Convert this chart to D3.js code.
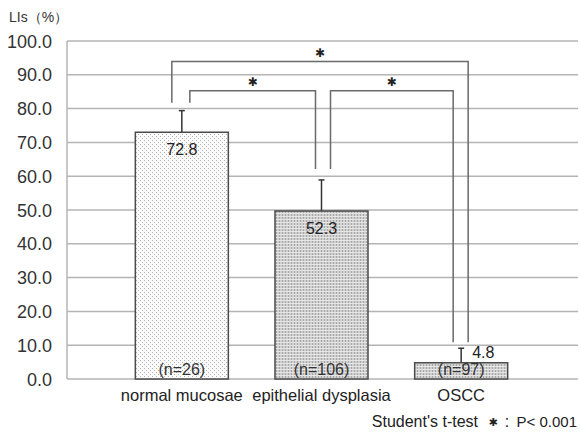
<!DOCTYPE html>
<html>
<head>
<meta charset="utf-8">
<script src="https://cdn.jsdelivr.net/npm/d3@7"></script>
<style>
  body { margin: 0; background: #fff; }
  svg { font-family: "Liberation Sans", Arial, sans-serif; }
</style>
</head>
<body>
<svg id="chart" width="580" height="436"></svg>
<script>
// data
const categories = ["normal mucosae", "epithelial dysplasia", "OSCC"];
const barValues = [73.0, 49.7, 4.8];
const valueLabels = ["72.8", "52.3", "4.8"];
const errorTops = [79.4, 58.9, 9.1];
const nLabels = ["(n=26)", "(n=106)", "(n=97)"];
const yTicks = [0, 10, 20, 30, 40, 50, 60, 70, 80, 90, 100];
// significance brackets: from / to category index, top and leg ends (in %)
const brackets = [
    { from: 0, to: 2, top: 93.9, leftEnd: 81.7, rightEnd: 10.9 },
    { from: 0, to: 1, top: 85.3, leftEnd: 81.7, rightEnd: 62.1 },
    { from: 1, to: 2, top: 85.3, leftEnd: 62.1, rightEnd: 10.9 }
];

const svg = d3.select("#chart");
const plotLeft = 67, plotRight = 578;
const STAR = "\u2731";

const x = d3.scalePoint().domain(categories).range([112, 531]).padding(0.5);
const y = d3.scaleLinear().domain([0, 100]).range([379, 41]);
const barWidth = 93;

// patterns for the bars
const defs = svg.append("defs");
const p1 = defs.append("pattern").attr("id", "dots1")
    .attr("width", 4).attr("height", 4).attr("patternUnits", "userSpaceOnUse");
p1.append("rect").attr("width", 4).attr("height", 4).attr("fill", "#fbfbfb");
p1.append("rect").attr("x", 0).attr("y", 0).attr("width", 1).attr("height", 1).attr("fill", "#b0b0b0");
p1.append("rect").attr("x", 2).attr("y", 2).attr("width", 1).attr("height", 1).attr("fill", "#b0b0b0");

const p2 = defs.append("pattern").attr("id", "dots2")
    .attr("width", 3).attr("height", 3).attr("patternUnits", "userSpaceOnUse");
p2.append("rect").attr("width", 3).attr("height", 3).attr("fill", "#cfcfcf");
p2.append("rect").attr("width", 1).attr("height", 3).attr("fill", "#a8a8a8");
p2.append("rect").attr("width", 3).attr("height", 1).attr("fill", "#e6e6e6");

const fills = ["url(#dots1)", "url(#dots2)", "url(#dots2)"];

// gridlines
svg.append("g").selectAll("line")
    .data(yTicks)
    .join("line")
    .attr("x1", plotLeft).attr("x2", plotRight)
    .attr("y1", d => y(d)).attr("y2", d => y(d))
    .attr("stroke", "#b4b4b4").attr("stroke-width", 1.5);

svg.append("line")
    .attr("x1", plotLeft).attr("x2", plotLeft)
    .attr("y1", y(100)).attr("y2", y(0))
    .attr("stroke", "#b4b4b4").attr("stroke-width", 1.5);

// y tick labels
svg.append("g").selectAll("text")
    .data(yTicks)
    .join("text")
    .attr("x", 52).attr("y", d => y(d) + 6.5)
    .attr("text-anchor", "end")
    .attr("font-size", 18)
    .attr("fill", "#333")
    .text(d => d.toFixed(1));

svg.append("text")
    .attr("x", 9).attr("y", 22)
    .attr("font-size", 14).attr("fill", "#333")
    .text("LIs\uFF08%\uFF09");

// error bars
const eb = svg.append("g");
categories.forEach((c, i) => {
    const cx = x(c);
    eb.append("line")
        .attr("x1", cx).attr("x2", cx)
        .attr("y1", y(barValues[i])).attr("y2", y(errorTops[i]))
        .attr("stroke", "#333").attr("stroke-width", 1.5);
    eb.append("line")
        .attr("x1", cx - 3).attr("x2", cx + 3)
        .attr("y1", y(errorTops[i])).attr("y2", y(errorTops[i]))
        .attr("stroke", "#333").attr("stroke-width", 1.5);
});

// bars
svg.append("g").selectAll("rect")
    .data(categories)
    .join("rect")
    .attr("x", d => x(d) - barWidth / 2)
    .attr("width", barWidth)
    .attr("y", (d, i) => y(barValues[i]))
    .attr("height", (d, i) => y(0) - y(barValues[i]))
    .attr("fill", (d, i) => fills[i])
    .attr("stroke", "#4a4a4a").attr("stroke-width", 1.5);

// value labels
svg.append("g").selectAll("text")
    .data(categories)
    .join("text")
    .attr("x", (d, i) => i === 2 ? x(d) + 11 : x(d))
    .attr("y", (d, i) => i === 2 ? y(errorTops[i]) + 10 : y(barValues[i]) + 23)
    .attr("text-anchor", (d, i) => i === 2 ? "start" : "middle")
    .attr("font-size", 16).attr("fill", "#222")
    .text((d, i) => valueLabels[i]);

// n labels
svg.append("g").selectAll("text")
    .data(categories)
    .join("text")
    .attr("x", d => x(d))
    .attr("y", y(0) - 4)
    .attr("text-anchor", "middle")
    .attr("font-size", 16).attr("fill", "#333")
    .text((d, i) => nLabels[i]);

// category labels
svg.append("g").selectAll("text")
    .data(categories)
    .join("text")
    .attr("x", d => x(d))
    .attr("y", 401)
    .attr("text-anchor", "middle")
    .attr("font-size", 16.5).attr("fill", "#222")
    .text(d => d);

// brackets
const legOffsets = [[-10, 7], [8, -6], [9, -8]];
const bg = svg.append("g");
brackets.forEach((b, i) => {
    const xa = x(categories[b.from]) + legOffsets[i][0];
    const xb = x(categories[b.to]) + legOffsets[i][1];
    bg.append("path")
        .attr("d", d3.line()([[xa, y(b.leftEnd)], [xa, y(b.top)], [xb, y(b.top)], [xb, y(b.rightEnd)]]))
        .attr("fill", "none")
        .attr("stroke", "#6a6a6a").attr("stroke-width", 1.5);
    bg.append("text")
        .attr("x", (xa + xb) / 2)
        .attr("y", y(b.top) - 9)
        .attr("dominant-baseline", "central")
        .attr("text-anchor", "middle")
        .attr("font-family", "'DejaVu Sans', sans-serif")
        .attr("font-size", 12).attr("fill", "#222")
        .text(STAR);
});

// footnote
const foot = svg.append("g").attr("font-size", 16).attr("fill", "#222");
foot.append("text").attr("x", 478).attr("y", 427).attr("text-anchor", "end")
    .text("Student's t-test");
foot.append("text").attr("x", 493).attr("y", 422).attr("text-anchor", "middle")
    .attr("dominant-baseline", "central")
    .attr("font-family", "'DejaVu Sans', sans-serif").attr("font-size", 11)
    .text(STAR);
foot.append("text").attr("x", 507).attr("y", 427).attr("text-anchor", "middle")
    .text(":");
foot.append("text").attr("x", 577).attr("y", 427).attr("text-anchor", "end")
    .attr("font-size", 15)
    .text("P< 0.001");
</script>
</body>
</html>
